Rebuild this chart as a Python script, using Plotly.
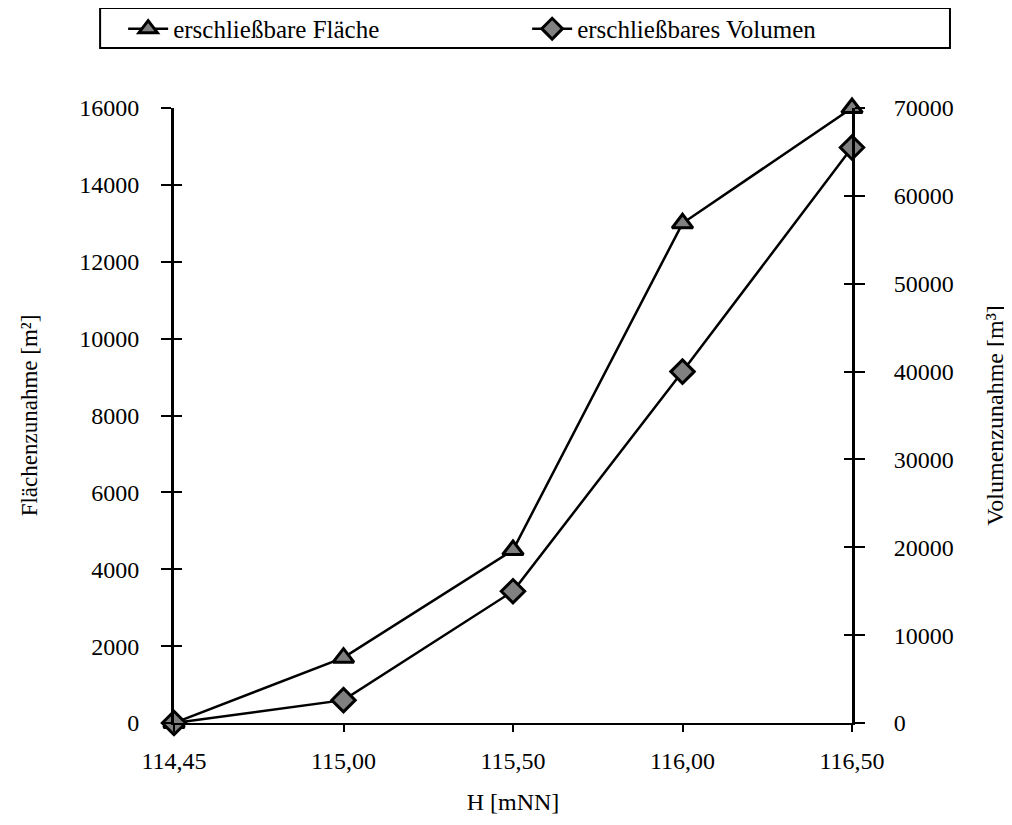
import plotly.graph_objects as go

categories = ["114,45", "115,00", "115,50", "116,00", "116,50"]
flaeche = [0, 1700, 4500, 13000, 16000]
volumen = [0, 2600, 15000, 40000, 65500]
left_ticks = [0, 2000, 4000, 6000, 8000, 10000, 12000, 14000, 16000]
right_ticks = [0, 10000, 20000, 30000, 40000, 50000, 60000, 70000]

FONT = "Liberation Serif"

fig = go.Figure()
fig.add_trace(go.Scatter(
    x=categories, y=flaeche, name="erschließbare Fläche", mode="lines+markers",
    line=dict(color="black", width=2.5),
    marker=dict(symbol="triangle-up", size=18, color="#808080", line=dict(color="black", width=3)),
    cliponaxis=False, yaxis="y"))
fig.add_trace(go.Scatter(
    x=categories, y=volumen, name="erschließbares Volumen", mode="lines+markers",
    line=dict(color="black", width=2.5),
    marker=dict(symbol="diamond", size=18, color="#808080", line=dict(color="black", width=3)),
    cliponaxis=False, yaxis="y2"))
# invisible traces for the inner halves of the crossing ticks
fig.add_trace(go.Scatter(x=[], y=[], yaxis="y3", showlegend=False))
fig.add_trace(go.Scatter(x=[], y=[], yaxis="y4", showlegend=False))

# legend frame (wider than plotly's own legend box)
fig.add_shape(type="rect", xref="paper", yref="paper",
              x0=-0.109, x1=1.1445, y0=1.0976, y1=1.1626,
              line=dict(color="black", width=2), fillcolor="rgba(0,0,0,0)", layer="above")

fig.update_layout(
    width=1012, height=825,
    margin=dict(l=166, r=168, t=100, b=110, autoexpand=False),
    paper_bgcolor="white", plot_bgcolor="white",
    font=dict(family=FONT, size=22, color="black"),
    showlegend=True,
    legend=dict(orientation="h", x=-0.075, xanchor="left", y=1.166, yanchor="top",
                borderwidth=0, font=dict(size=25, family=FONT),
                bgcolor="rgba(0,0,0,0)", itemwidth=40, entrywidth=349, entrywidthmode="pixels",
                tracegroupgap=0),
    xaxis=dict(type="category", range=[0, 4], showgrid=False, zeroline=False,
               showline=True, linecolor="black", linewidth=2,
               ticks="outside", ticklen=7, tickwidth=2, tickcolor="black",
               tickfont=dict(size=24, family=FONT), ticklabelstandoff=8,
               title=dict(text="H [mNN]", font=dict(size=24, family=FONT), standoff=20)),
    yaxis=dict(range=[0, 16000], tickvals=left_ticks, ticktext=[str(v) for v in left_ticks],
               showgrid=False, zeroline=False, showline=True, linecolor="black", linewidth=3,
               ticks="outside", ticklen=10, tickwidth=2, tickcolor="black",
               tickfont=dict(size=24, family=FONT), ticklabelstandoff=17,
               title=dict(text="Flächenzunahme [m²]", font=dict(size=23, family=FONT), standoff=36)),
    yaxis2=dict(range=[0, 70000], tickvals=right_ticks, ticktext=[str(v) for v in right_ticks],
                overlaying="y", side="right", showgrid=False, zeroline=False,
                showline=True, linecolor="black", linewidth=3,
                ticks="outside", ticklen=10, tickwidth=2, tickcolor="black",
                tickfont=dict(size=24, family=FONT), ticklabelstandoff=24,
                title=dict(text="Volumenzunahme [m³]", font=dict(size=24, family=FONT), standoff=34)),
    yaxis3=dict(range=[0, 16000], tickvals=left_ticks, overlaying="y", side="left",
                showticklabels=False, showgrid=False, zeroline=False, showline=False,
                ticks="inside", ticklen=8, tickwidth=2, tickcolor="black"),
    yaxis4=dict(range=[0, 70000], tickvals=right_ticks, overlaying="y", side="right",
                showticklabels=False, showgrid=False, zeroline=False, showline=False,
                ticks="inside", ticklen=8, tickwidth=2, tickcolor="black"),
)

fig.write_html("out.html")
